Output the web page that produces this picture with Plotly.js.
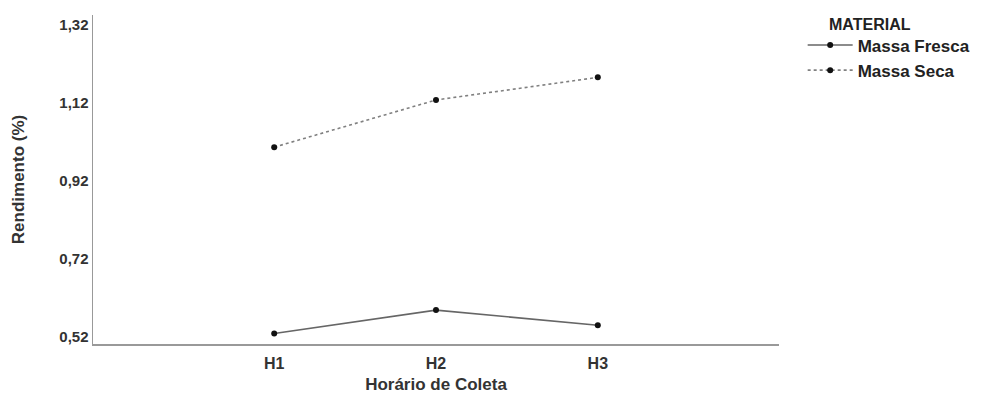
<!DOCTYPE html>
<html>
<head>
<meta charset="utf-8">
<script src="https://cdn.plot.ly/plotly-3.0.1.min.js"></script>
<style>html,body{margin:0;padding:0;background:#fff;}#chart{width:987px;height:394px;}</style>
</head>
<body>
<div id="chart"></div>
<script>
const categories = ["H1", "H2", "H3"];
const massaFresca = [0.529, 0.589, 0.550];
const massaSeca = [1.007, 1.128, 1.186];
const yTicks = [0.52, 0.72, 0.92, 1.12, 1.32];
const legendTitle = "MATERIAL";
const xIdx = categories.map((c, i) => i);

const font = "Liberation Sans, Arial, sans-serif";
const traces = [
  {
    x: xIdx, y: massaFresca, name: "<b>Massa Fresca</b>", mode: "lines+markers",
    line: {color: "#666666", width: 1.6, dash: "solid"},
    marker: {color: "#111111", size: 6}
  },
  {
    x: xIdx, y: massaSeca, name: "<b>Massa Seca</b>", mode: "lines+markers",
    line: {color: "#808080", width: 1.6, dash: "dot"},
    marker: {color: "#111111", size: 6}
  }
];

const layout = {
  width: 987, height: 394,
  margin: {l: 93, r: 207, t: 15, b: 50, pad: 0},
  paper_bgcolor: "#ffffff", plot_bgcolor: "#ffffff",
  separators: ",.",
  font: {family: font, color: "#333333", size: 13},
  showlegend: true,
  legend: {
    x: 1.033, y: 0.962, xanchor: "left", yanchor: "top",
    font: {size: 17, color: "#222"},
    itemwidth: 45, tracegroupgap: 0,
    bgcolor: "rgba(0,0,0,0)"
  },
  annotations: [{
    text: "<b>" + legendTitle + "</b>", xref: "paper", yref: "paper",
    x: 1.070, y: 0.970, xanchor: "left", yanchor: "middle", showarrow: false,
    font: {size: 16, color: "#222"}
  }],
  xaxis: {
    range: [-1.12, 3.12],
    tickvals: xIdx, ticktext: categories.map(c => "<b>" + c + "</b>"),
    showgrid: false, zeroline: false, showline: true,
    linecolor: "#999999", linewidth: 1.5, ticks: "",
    ticklabelstandoff: 4,
    tickfont: {size: 16, color: "#333"},
    title: {text: "<b>Horário de Coleta</b>", font: {size: 17, color: "#333"}, standoff: 8}
  },
  yaxis: {
    range: [0.502, 1.346],
    tickvals: yTicks, ticktext: yTicks.map(v => "<b>" + v.toFixed(2).replace(".", ",") + "</b>"),
    showgrid: false, zeroline: false, showline: true,
    linecolor: "#999999", linewidth: 1.5, ticks: "",
    tickfont: {size: 15, color: "#333"},
    title: {text: "<b>Rendimento (%)</b>", font: {size: 17, color: "#333"}, standoff: 30}
  }
};

Plotly.newPlot("chart", traces, layout, {displayModeBar: false, staticPlot: true});
</script>
</body>
</html>
